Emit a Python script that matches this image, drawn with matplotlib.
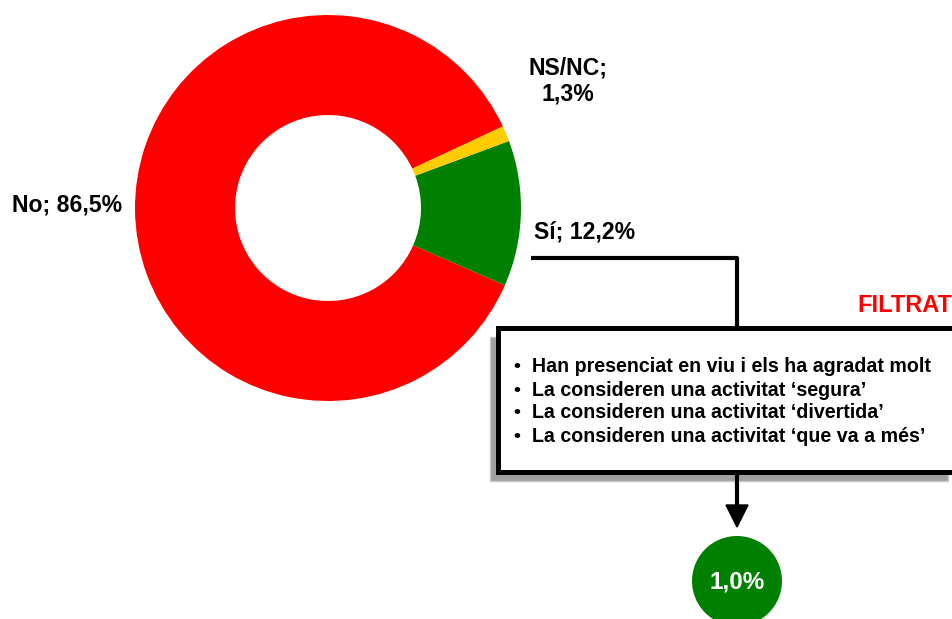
import matplotlib
matplotlib.use("Agg")
import matplotlib.pyplot as plt
from matplotlib.patches import Rectangle, Circle, Polygon

plt.rcParams["font.family"] = ["Liberation Sans", "DejaVu Sans"]
plt.rcParams["font.weight"] = "bold"

# data
categories = ["No", "Sí", "NS/NC"]
values = [86.5, 12.2, 1.3]
colors = ["#FF0000", "#008000", "#FFCC00"]
filtered_value = 1.0
filter_title = "FILTRAT"
filter_items = [
    "Han presenciat en viu i els ha agradat molt",
    "La consideren una activitat \u2018segura\u2019",
    "La consideren una activitat \u2018divertida\u2019",
    "La consideren una activitat \u2018que va a més\u2019",
]

W, H = 952, 619


def Y(y):
    # pixel row (from top) -> data y
    return H - y


def pct(v):
    return f"{v:.1f}%".replace(".", ",")


fig = plt.figure(figsize=(W / 100, H / 100), dpi=100)
ax = fig.add_axes([0, 0, 1, 1])
ax.set_xlim(0, W)
ax.set_ylim(0, H)
ax.axis("off")

ax.pie(values, colors=colors, startangle=25, counterclock=True,
       center=(328, Y(208)), radius=193,
       wedgeprops=dict(width=100, linewidth=0))
ax.set_xlim(0, W)
ax.set_ylim(0, H)

# labels
ax.text(12, Y(205), f"{categories[0]}; {pct(values[0])}", fontsize=16.6,
        ha="left", va="center")
ax.text(534, Y(232), f"{categories[1]}; {pct(values[1])}", fontsize=16.6,
        ha="left", va="center")
ax.text(568, Y(81), f"{categories[2]};\n{pct(values[2])}", fontsize=16.6,
        ha="center", va="center", linespacing=1.2)

# connector from the "Sí" label to the filter box
ax.plot([531, 737, 737], [Y(258), Y(258), Y(328)], color="black", lw=3,
        solid_capstyle="butt")

# filter box with shadow
ax.add_patch(Rectangle((490, Y(481)), 458, 144, facecolor="#A0A0A0",
                       edgecolor="#C8C8C8", lw=1))
ax.add_patch(Rectangle((498, Y(472)), 470, 144, facecolor="white",
                       edgecolor="black", lw=3.6))
ax.text(952, Y(306), filter_title, color="#FF0000", fontsize=17,
        ha="right", va="center")
for i, item in enumerate(filter_items):
    yy = Y(367 + 23 * i)
    ax.text(513, yy, "\u2022", fontsize=14, ha="left", va="center")
    ax.text(532, yy, item, fontsize=14.1, ha="left", va="center")

# arrow down to the result
ax.plot([737, 737], [Y(472), Y(507)], color="black", lw=3,
        solid_capstyle="butt")
ax.add_patch(Polygon([(726, Y(505)), (748, Y(505)), (737, Y(527))],
                     closed=True, facecolor="black", edgecolor="black"))
ax.add_patch(Circle((737, Y(581)), 45, facecolor="#008000", edgecolor="none"))
ax.text(737, Y(582), pct(filtered_value), color="white", fontsize=17.5,
        ha="center", va="center")

fig.savefig("out.png", dpi=100, facecolor="white")
